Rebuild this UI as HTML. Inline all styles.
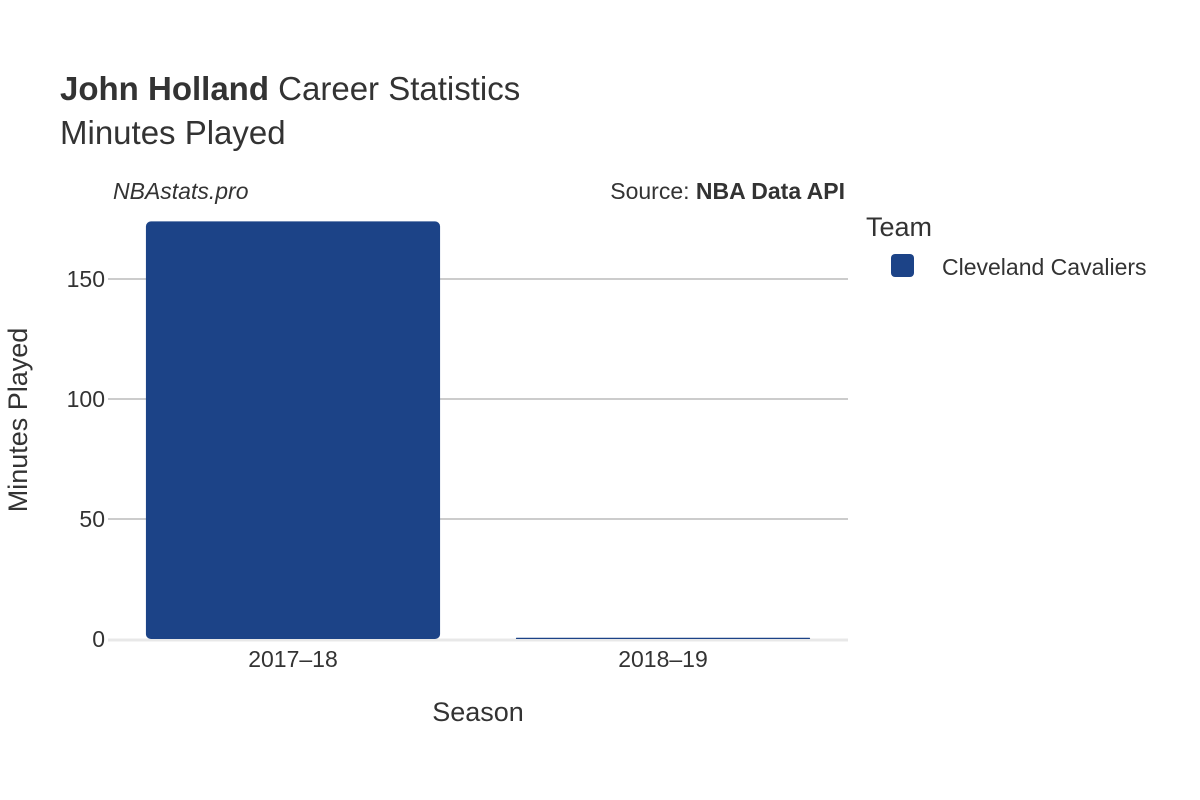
<!DOCTYPE html>
<html><head><meta charset="utf-8"><style>
body{margin:0;background:#fff;}
svg{display:block;font-family:"Liberation Sans","DejaVu Sans",sans-serif;}
</style></head><body>
<svg id="chart" width="1200" height="800" viewBox="0 0 1200 800">
<text x="60" y="100" font-size="33" fill="#333"><tspan font-weight="bold">John Holland</tspan> Career Statistics</text>
<text x="60" y="144" font-size="33" fill="#333">Minutes Played</text>
<text x="113" y="199" font-size="23" font-style="italic" fill="#333">NBAstats.pro</text>
<text x="845" y="199" font-size="23" fill="#333" text-anchor="end">Source: <tspan font-weight="bold">NBA Data API</tspan></text>
<g id="grid"></g>
<g id="bars"></g>
<g id="yticks"></g>
<g id="xticks"></g>
<text x="478" y="721" font-size="27" fill="#333" text-anchor="middle">Season</text>
<text transform="translate(27,420) rotate(-90)" font-size="27" fill="#333" text-anchor="middle">Minutes Played</text>
<text x="866" y="236" font-size="27" fill="#333">Team</text>
<g>
<rect x="891" y="254" width="23" height="23" rx="4" fill="#1c4387"/>
<text x="942" y="275" font-size="23" fill="#333">Cleveland Cavaliers</text>
</g>
</svg>
<script>
const seasons = ["2017–18", "2018–19"];
const minutes = [174, 0.5];
const yTicks = [0, 50, 100, 150];
const NS = "http://www.w3.org/2000/svg";
const x0 = 108, x1 = 848, yBase = 639, pxPer = 2.4;
const y = v => yBase - v * pxPer;
const band = (x1 - x0) / seasons.length;
const bx = i => x0 + band * i;
function mk(tag, attrs, parent, txt) {
  const e = document.createElementNS(NS, tag);
  for (const k in attrs) e.setAttribute(k, attrs[k]);
  if (txt !== undefined) e.textContent = txt;
  document.getElementById(parent).appendChild(e);
  return e;
}
yTicks.forEach(t => {
  if (t > 0) {
    const g = mk("line", {x1: x0, x2: x1, y1: y(t), y2: y(t), stroke: "#999", "stroke-width": 1}, "grid");
    
    
  }
  const l = mk("text", {x: 105, y: y(t) + 8, "font-size": 23, fill: "#333", "text-anchor": "end"}, "yticks", String(t));
  
  
});
const zl = mk("line", {x1: x0, x2: x1, y1: yBase + 1, y2: yBase + 1, stroke: "#e8e8e8", "stroke-width": 3}, "grid");


seasons.forEach((s, i) => {
  const w = band * 0.795, left = bx(i) + (band - w) / 2;
  const h = Math.max(minutes[i] * pxPer, 1);
  const b = mk("rect", {x: left, y: yBase - h, width: w, height: h, rx: Math.min(5, h / 2), fill: "#1c4387"}, "bars");
  
  
  const t = mk("text", {x: bx(i) + band / 2, y: 667, "font-size": 23, fill: "#333", "text-anchor": "middle"}, "xticks", s);
  
  
});
</script>
</body></html>
